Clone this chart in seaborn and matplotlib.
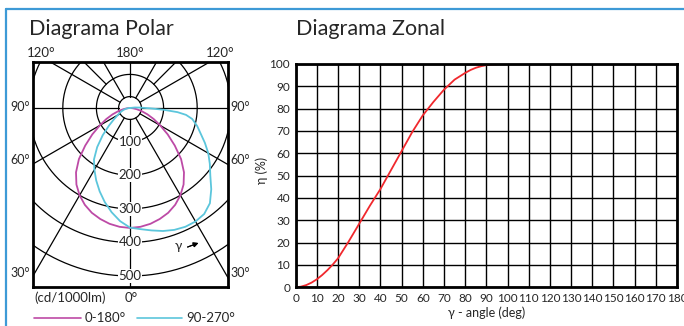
import numpy as np
import pandas as pd
import matplotlib
matplotlib.use("Agg")
import matplotlib.pyplot as plt
from matplotlib.lines import Line2D
import seaborn as sns

# --- data ---
# polar diagram, cd/1000lm vs gamma (deg from nadir)
mag_gamma = [0, 5, 10, 15, 20, 25, 30, 35, 40, 45, 50, 55, 60, 65, 70, 75, 80, 85, 90]
mag_cd = [357, 355, 350, 342, 332, 318, 300, 278, 250, 215, 174, 137, 104, 78, 55, 36,
          20, 8, 0]

cyan_right_gamma = [0, 5, 10, 15, 20, 25, 30, 35, 40, 45, 50, 55, 60, 65, 70, 75, 80,
                    83, 85, 87, 89, 92, 96, 100]
cyan_right_cd = [356, 362, 370, 379, 386, 390, 390, 385, 370, 342, 312, 290, 269, 246,
                 224, 207, 188, 168, 142, 100, 60, 32, 15, 0]
cyan_left_gamma = [0, 5, 10, 15, 20, 25, 30, 35, 40, 45, 50, 55, 60, 65, 70, 75, 80, 85, 90]
cyan_left_cd = [356, 338, 315, 290, 264, 238, 212, 187, 152, 115, 82, 58, 42, 33, 25,
                18, 11, 5, 0]

ring_values = [100, 200, 300, 400, 500]
spoke_angles = [0, 30, 60, 90, 120, 150, 180]

# zonal diagram
zonal_angle = [0, 2.5, 5, 7.5, 10, 12.5, 15, 17.5, 20, 25, 30, 35, 40, 45, 50, 55, 60, 65,
               70, 75, 80, 82.5, 85, 87.5, 90, 92.5, 95, 100, 110, 120, 130, 140, 150, 160,
               170, 180]
zonal_eta = [0, 0.3, 1, 2.1, 3.6, 5.5, 7.7, 10.2, 13, 20.5, 28.5, 36.5, 44, 52.5, 61,
             69.5, 77, 83, 88.5, 93, 96, 97.3, 98.3, 99.0, 99.5, 99.8, 99.9, 100, 100, 100,
             100, 100, 100, 100, 100, 100]

W, H = 684, 326
MAG = "#bd4aa6"
CYAN = "#5cc6dc"
FRAME = "#3d9ad6"

sns.set_style("white")
plt.rcParams["font.family"] = ["Lato", "DejaVu Sans"]

fig = plt.figure(figsize=(W / 100, H / 100), dpi=100)


def fx(x):
    return x / W


def fy(y):
    return 1 - y / H


def to_xy(gamma, cd, side):
    g = np.radians(np.asarray(gamma, dtype=float))
    r = np.asarray(cd, dtype=float)
    return side * r * np.sin(g), -r * np.cos(g)


# ---------------- polar diagram ----------------
scale = 0.336  # px per cd
cx, cy = 130, 108
left, right, top, bottom = 33, 228, 62, 287
ax_p = fig.add_axes([fx(left), fy(bottom), (right - left) / W, (bottom - top) / H])
ax_p.set_xlim((left - cx) / scale, (right - cx) / scale)
ax_p.set_ylim((cy - bottom) / scale, (cy - top) / scale)
ax_p.set_xticks([])
ax_p.set_yticks([])
for sp in ax_p.spines.values():
    sp.set_linewidth(2.0)
    sp.set_color("black")

t = np.linspace(0, 2 * np.pi, 500)
for r in ring_values + [34]:
    ax_p.plot(r * np.sin(t), r * np.cos(t), color="black", lw=0.9, zorder=1)

for a in spoke_angles:
    sides = [1] if a in (0, 180) else [1, -1]
    for s in sides:
        xs, ys = to_xy([a, a], [34, 900], s)
        ax_p.plot(xs, ys, color="black", lw=0.9, zorder=1)
for s in [1, -1]:
    xs, ys = to_xy([135, 135], [100, 900], s)
    ax_p.plot(xs, ys, color="black", lw=0.9, zorder=1)

for v in ring_values:
    ax_p.text(0, -v, str(v), ha="center", va="center", fontsize=9.5, zorder=2,
              bbox=dict(facecolor="white", edgecolor="none", pad=0.6))

# curves
mx_r, my_r = to_xy(mag_gamma, mag_cd, 1)
mx_l, my_l = to_xy(mag_gamma[::-1], mag_cd[::-1], -1)
mag = pd.DataFrame({"x": np.r_[mx_l, mx_r], "y": np.r_[my_l, my_r]})
sns.lineplot(data=mag, x="x", y="y", sort=False, estimator=None, color=MAG, lw=1.3,
             ax=ax_p, zorder=3)

cx_r, cy_r = to_xy(cyan_right_gamma, cyan_right_cd, 1)
cx_l, cy_l = to_xy(cyan_left_gamma[::-1], cyan_left_cd[::-1], -1)
cyan = pd.DataFrame({"x": np.r_[cx_l, cx_r], "y": np.r_[cy_l, cy_r]})
sns.lineplot(data=cyan, x="x", y="y", sort=False, estimator=None, color=CYAN, lw=1.3,
             ax=ax_p, zorder=3)
ax_p.set_xlabel("")
ax_p.set_ylabel("")

# angle labels around the box
lab = dict(fontsize=9.5, va="center")
side = dict(fontsize=9, va="center")
fig.text(fx(41), fy(53), "120°", ha="center", **lab)
fig.text(fx(130), fy(53), "180°", ha="center", **lab)
fig.text(fx(220), fy(53), "120°", ha="center", **lab)
for yy, txt in [(107, "90°"), (160, "60°"), (273, "30°")]:
    fig.text(fx(20.5), fy(yy), txt, ha="center", **side)
    fig.text(fx(240), fy(yy), txt, ha="center", **side)
fig.text(fx(131), fy(298), "0°", ha="center", **lab)
fig.text(fx(34), fy(298), "(cd/1000lm)", ha="left", **lab)

fig.text(fx(178), fy(246), "γ", ha="center", **lab)
fig.add_artist(plt.annotate("", xy=(fx(201), fy(242)), xytext=(fx(185), fy(248)),
                            xycoords="figure fraction", textcoords="figure fraction",
                            arrowprops=dict(arrowstyle="-|>", color="black", lw=0.8,
                                            mutation_scale=7)))

# legend
fig.add_artist(Line2D([fx(34), fx(81)], [fy(317.5), fy(317.5)], color=MAG, lw=1.2))
fig.text(fx(85), fy(317.5), "0-180°", ha="left", **lab)
fig.add_artist(Line2D([fx(137), fx(182)], [fy(317.5), fy(317.5)], color=CYAN, lw=1.2))
fig.text(fx(186), fy(317.5), "90-270°", ha="left", **lab)

fig.text(fx(29), fy(29), "Diagrama Polar", ha="left", va="center", fontsize=15.5)

# ---------------- zonal diagram ----------------
zl, zr, zt, zb = 295.7, 677, 64, 287.3
ax_z = fig.add_axes([fx(zl), fy(zb), (zr - zl) / W, (zb - zt) / H])
zonal = pd.DataFrame({"angle": zonal_angle, "eta": zonal_eta})
sns.lineplot(data=zonal, x="angle", y="eta", color="#f0282d", lw=1.3, ax=ax_z, zorder=3)
ax_z.set_xlim(0, 180)
ax_z.set_ylim(0, 100)
ax_z.set_xticks(np.arange(0, 181, 10))
ax_z.set_yticks(np.arange(0, 101, 10))
ax_z.tick_params(length=0, labelsize=8.5, pad=4)
ax_z.grid(True, color="black", lw=1.0)
ax_z.set_axisbelow(True)
for sp in ax_z.spines.values():
    sp.set_linewidth(2.0)
    sp.set_color("black")
    sp.set_zorder(4)
ax_z.set_xlabel("γ - angle (deg)", fontsize=9, labelpad=2)
ax_z.set_ylabel("η (%)", fontsize=9)
ax_z.yaxis.set_label_coords((268 - zl) / (zr - zl), (zb - 170) / (zb - zt))

fig.text(fx(296), fy(29), "Diagrama Zonal", ha="left", va="center", fontsize=15.5)

# blue panel frame
fig.add_artist(Line2D([fx(6), 1], [fy(8.5), fy(8.5)], color=FRAME, lw=1.6))
fig.add_artist(Line2D([fx(6), fx(6)], [fy(8.5), 0], color=FRAME, lw=1.6))

fig.savefig("out.png", dpi=100)
